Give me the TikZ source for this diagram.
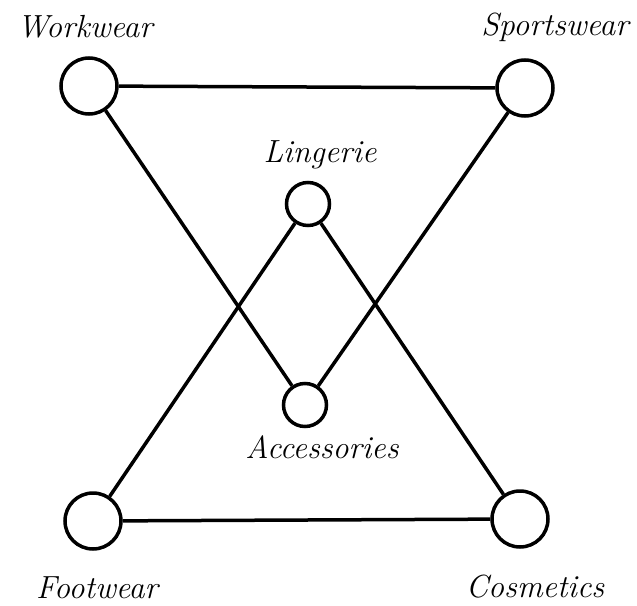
\documentclass[tikz,border=0pt]{standalone}
\begin{document}
\begin{tikzpicture}[x=1pt,y=-1pt,
  big/.style={circle,draw,line width=3.5pt,minimum size=56pt,inner sep=0pt},
  small/.style={circle,draw,line width=3.5pt,minimum size=43pt,inner sep=0pt},
  lbl/.style={font=\fontsize{32}{36}\selectfont\itshape,anchor=base,inner sep=0pt},
  edge/.style={line width=3.5pt}]
\useasboundingbox (0,0) rectangle (637,605);
\node[big] (work) at (89,86) {};
\node[big] (sport) at (525,88) {};
\node[small] (ling) at (308,204) {};
\node[small] (acc) at (305,405) {};
\node[big] (foot) at (93,521) {};
\node[big] (cos) at (520,519) {};
\node[lbl] (lwork) at (85,37) {Workwear};
\node[lbl] (lsport) at (555,35) {Sportswear};
\node[lbl] (lling) at (320,162) {Lingerie};
\node[lbl] (lacc) at (322,458) {Accessories};
\node[lbl] (lfoot) at (97,598) {Footwear};
\node[lbl] (lcos) at (535,597) {Cosmetics};
\draw[edge] (work) -- (sport);
\draw[edge] (work) -- (acc);
\draw[edge] (sport) -- (acc);
\draw[edge] (ling) -- (foot);
\draw[edge] (ling) -- (cos);
\draw[edge] (foot) -- (cos);
\end{tikzpicture}
\end{document}
